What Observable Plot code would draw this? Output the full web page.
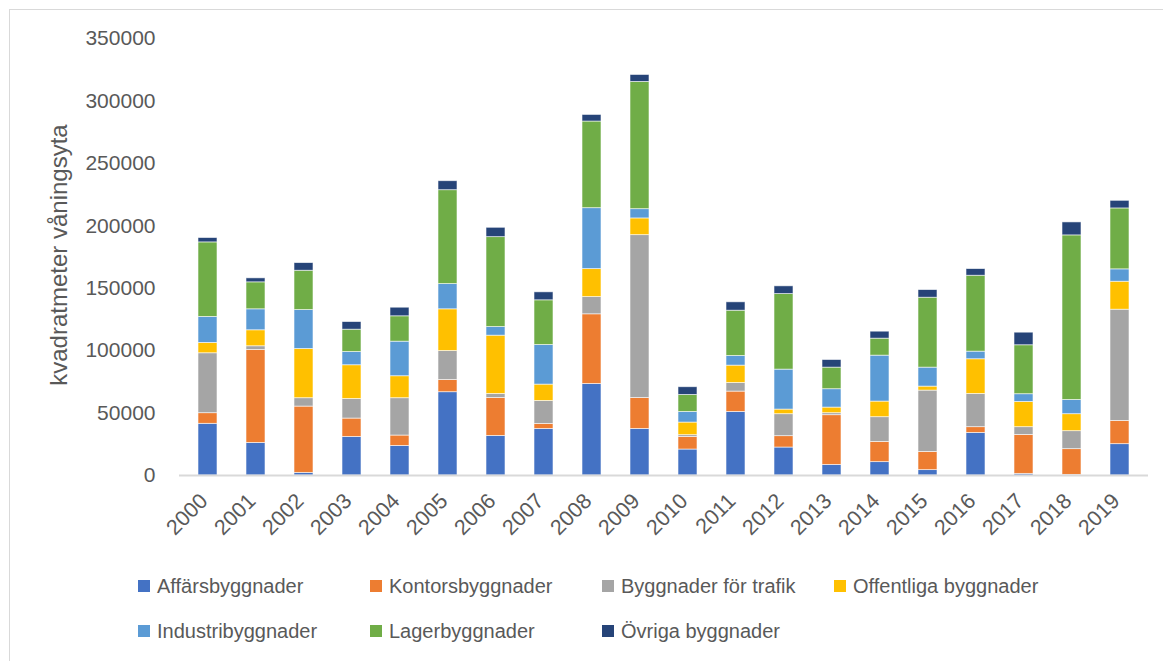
<!DOCTYPE html>
<html>
<head>
<meta charset="utf-8">
<script src="https://cdn.jsdelivr.net/npm/d3@7"></script>
<script src="https://cdn.jsdelivr.net/npm/@observablehq/plot@0.6"></script>
<style>
  html, body { margin: 0; padding: 0; background: #fff; }
  #wrap { position: relative; width: 1163px; height: 661px; overflow: hidden; font-family: "Liberation Sans", Arial, sans-serif; color: #595959; }
  #frame { position: absolute; left: 9px; top: 9px; width: 1200px; height: 700px; border-top: 1.5px solid #d9d9d9; border-left: 1.5px solid #d9d9d9; }
  #chart { position: absolute; left: 0; top: 0; }
  #ytitle { position: absolute; left: 59px; top: 255px; transform: translate(-50%, -50%) rotate(-90deg); font-size: 24px; white-space: nowrap; color: #595959; }
  .leg { position: absolute; font-size: 20px; white-space: nowrap; color: #595959; display: flex; align-items: center; }
  .leg span.sw { display: inline-block; width: 12px; height: 12px; margin-right: 7px; }
</style>
</head>
<body>
<div id="wrap">
  <div id="frame"></div>
  <div id="chart"></div>
  <div id="ytitle">kvadratmeter våningsyta</div>
  <div id="legend"></div>
</div>
<script>
const years = ["2000","2001","2002","2003","2004","2005","2006","2007","2008","2009","2010","2011","2012","2013","2014","2015","2016","2017","2018","2019"];
const seriesNames = ["Affärsbyggnader","Kontorsbyggnader","Byggnader för trafik","Offentliga byggnader","Industribyggnader","Lagerbyggnader","Övriga byggnader"];
const seriesColors = ["#4472C4","#ED7D31","#A5A5A5","#FFC000","#5B9BD5","#70AD47","#264478"];

const affars     = [41400, 26100,  2100, 30900, 23700, 66700, 31700, 37300, 73300,  37300, 20800, 50900, 22400,  8500, 10700,  4300, 34100,  1300,    500, 25100];
const kontors    = [ 8500, 74400, 53100, 14700,  8300,  9800, 30400,  4000, 55800,  24800, 10100, 16300,  9100, 39800, 16200, 14600,  4600, 31200,  20600, 18600];
const trafik     = [48000,  3000,  6700, 15700, 29900, 23200,  3200, 18400, 13800, 130400,  1400,  6900, 17600,  1600, 19800, 49100, 26600,  6200,  14400, 89100];
const offentliga = [ 8300, 12800, 39400, 27000, 17600, 33400, 46700, 13100, 22400,  13400, 10100, 13900,  3700,  4500, 12500,  3200, 27800, 20200,  13600, 22400];
const industri   = [20800, 16800, 31200, 10600, 27700, 20200,  6900, 31700, 48800,   7400,  8500,  7700, 32000, 14700, 36800, 15200,  6100,  6200,  11400,  9900];
const lager      = [59700, 21600, 31500, 17900, 20300, 75200, 72000, 35800, 69400, 101900, 13600, 36300, 60500, 17300, 13600, 56000, 60800, 39200, 131800, 48800];
const ovriga     = [ 3500,  3200,  6100,  6100,  6900,  7200,  7500,  6400,  5300,   5600,  6200,  6700,  6200,  6100,  5600,  6100,  5300, 10100,  10400,  6100];
const yTicks = [0, 50000, 100000, 150000, 200000, 250000, 300000, 350000];

const seriesValues = [affars, kontors, trafik, offentliga, industri, lager, ovriga];
const data = [];
seriesNames.forEach((name, i) => {
  years.forEach((yr, j) => data.push({year: yr, series: name, value: seriesValues[i][j]}));
});

const chart = Plot.plot({
  width: 1163,
  height: 560,
  marginTop: 38,
  marginBottom: 85,
  marginLeft: 179,
  marginRight: 15,
  style: {fontFamily: "'Liberation Sans', Arial, sans-serif", color: "#595959", background: "transparent"},
  x: {type: "band", domain: years, paddingInner: 0.6, paddingOuter: 0.3},
  y: {domain: [0, 350000]},
  color: {domain: seriesNames, range: seriesColors},
  marks: [
    Plot.barY(data, {x: "year", y: "value", fill: "series", order: seriesNames, stroke: "#ffffff", strokeWidth: 0.8, strokeOpacity: 0.7}),
    Plot.ruleY([0], {stroke: "#d9d9d9", strokeWidth: 2}),
    Plot.axisY({ticks: yTicks, tickFormat: d3.format("d"), tickSize: 0, tickPadding: 24, fontSize: 21, label: null, color: "#595959"}),
    Plot.axisX({tickRotate: -45, tickSize: 0, tickPadding: 22, dx: -4, fontSize: 21.5, label: null, color: "#595959"})
  ]
});
document.getElementById("chart").appendChild(chart);

const legendPos = [[138, 586],[370, 586],[602, 586],[834, 586],[138, 631],[370, 631],[602, 631]];
const legend = document.getElementById("legend");
seriesNames.forEach((name, i) => {
  const d = document.createElement("div");
  d.className = "leg";
  d.style.left = legendPos[i][0] + "px";
  d.style.top = (legendPos[i][1] - 12) + "px";
  d.style.height = "24px";
  const sw = document.createElement("span");
  sw.className = "sw";
  sw.style.background = seriesColors[i];
  d.appendChild(sw);
  d.appendChild(document.createTextNode(name));
  legend.appendChild(d);
});
</script>
</body>
</html>
